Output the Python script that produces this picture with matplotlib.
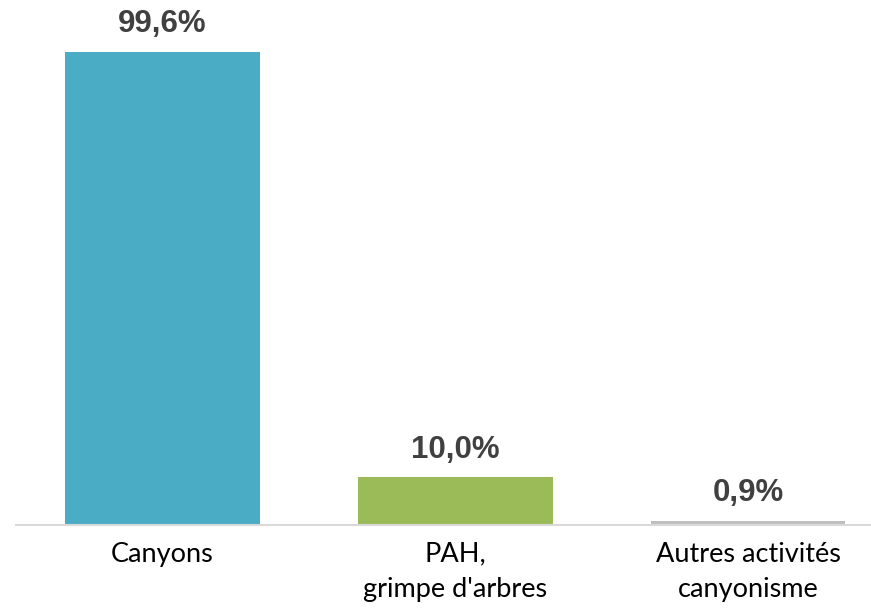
import matplotlib.pyplot as plt

categories = ['Canyons', "PAH,\ngrimpe d'arbres", 'Autres activités\ncanyonisme']
values = [99.6, 10.0, 0.9]
labels = ['99,6%', '10,0%', '0,9%']
colors = ['#4BACC6', '#9BBB59', '#BFBFBF']


def main():
    fig = plt.figure(figsize=(8.71, 6.10), dpi=100)
    ax = fig.add_axes([16 / 871, 85 / 610, 1 - 16 / 871, 525 / 610])

    x = range(len(values))
    ax.bar(x, values, width=0.665, color=colors, zorder=2)
    for xi, v, lab in zip(x, values, labels):
        ax.annotate(lab, (xi, v), xytext=(0, 9), textcoords='offset points',
                    ha='center', va='bottom', fontsize=22.5, fontweight='bold',
                    color='#404040', family='Liberation Sans')

    ax.set_xlim(-0.5, 2.42)
    ax.set_ylim(0, 110.5)
    ax.set_yticks([])
    ax.set_xticks(list(x))
    ax.set_xticklabels(categories, fontsize=19.5, family='Lato',
                       color='black', linespacing=1.5)
    ax.tick_params(axis='x', length=0, pad=12)
    for side in ['top', 'right', 'left']:
        ax.spines[side].set_visible(False)
    ax.spines['bottom'].set_color('#D9D9D9')
    ax.spines['bottom'].set_linewidth(1.5)

    fig.savefig('out.png', dpi=100)


if __name__ == '__main__':
    main()
